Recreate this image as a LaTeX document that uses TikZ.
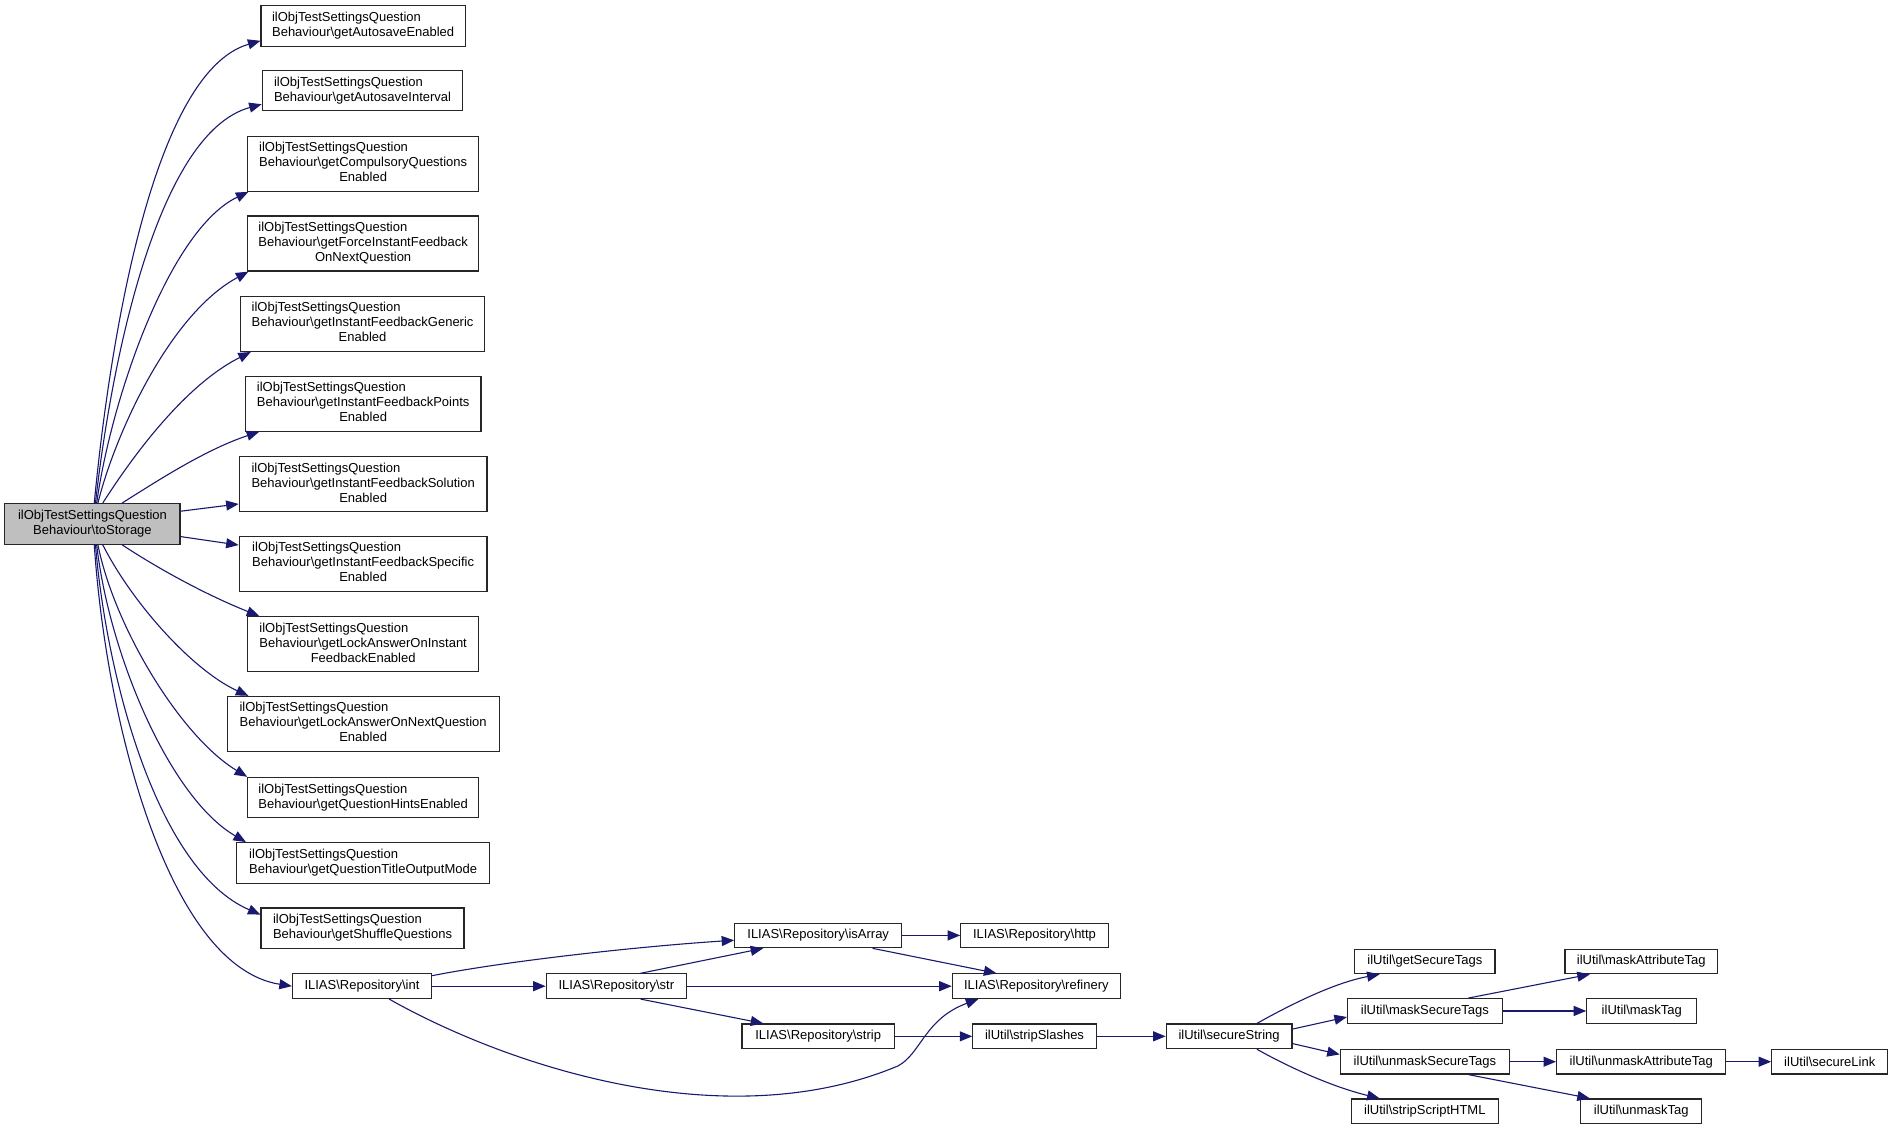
\documentclass[tikz,border=0pt]{standalone}
\usepackage{fontspec}
\setmainfont{Liberation Sans}
\usetikzlibrary{calc,arrows.meta}
\definecolor{edgec}{HTML}{191970}
\definecolor{boxgray}{HTML}{BFBFBF}
\newcommand\twoline[2]{\begin{tabular}{@{}l@{}}#1\\\multicolumn{1}{@{}c@{}}{#2}\end{tabular}}
\newcommand\threeline[3]{\begin{tabular}{@{}l@{}}#1\\#2\\\multicolumn{1}{@{}c@{}}{#3}\end{tabular}}
\newcommand\bs{\textbackslash}
\begin{document}
\begin{tikzpicture}[x=1.2086pt,y=-1.2086pt,
  fnbox/.style={draw=black!85,line width=1.2pt,fill=white,inner sep=0pt,align=center,
    font=\fontsize{13}{15}\selectfont},
  h2/.style={minimum height=40.5pt},
  h3/.style={minimum height=55pt},
  h1/.style={minimum height=24.6pt},
  call/.style={draw=edgec,line width=1.1pt,-{Triangle[length=12.5pt,width=10pt]}}]
\useasboundingbox[fill=white] (0,0) rectangle (1568,937.5);
% left
\node[fnbox,h2,fill=boxgray,minimum width=175.2pt] (ts) at (76.5,433.5) {\twoline{ilObjTestSettingsQuestion}{Behaviour\bs toStorage}};
% middle column
\node[fnbox,h2,minimum width=204.3pt] (b1) at (300.5,21.5) {\twoline{ilObjTestSettingsQuestion}{Behaviour\bs getAutosaveEnabled}};
\node[fnbox,h2,minimum width=200.6pt] (b2) at (300,75) {\twoline{ilObjTestSettingsQuestion}{Behaviour\bs getAutosaveInterval}};
\node[fnbox,h3,minimum width=230.8pt] (b3) at (300.5,135.5) {\threeline{ilObjTestSettingsQuestion}{Behaviour\bs getCompulsoryQuestions}{Enabled}};
\node[fnbox,h3,minimum width=230.8pt] (b4) at (300.5,201.5) {\threeline{ilObjTestSettingsQuestion}{Behaviour\bs getForceInstantFeedback}{OnNextQuestion}};
\node[fnbox,h3,minimum width=244.1pt] (b5) at (300,268) {\threeline{ilObjTestSettingsQuestion}{Behaviour\bs getInstantFeedbackGeneric}{Enabled}};
\node[fnbox,h3,minimum width=235.7pt] (b6) at (300.5,334) {\threeline{ilObjTestSettingsQuestion}{Behaviour\bs getInstantFeedbackPoints}{Enabled}};
\node[fnbox,h3,minimum width=247.8pt] (b7) at (300.5,400.5) {\threeline{ilObjTestSettingsQuestion}{Behaviour\bs getInstantFeedbackSolution}{Enabled}};
\node[fnbox,h3,minimum width=247.8pt] (b8) at (300.5,466.5) {\threeline{ilObjTestSettingsQuestion}{Behaviour\bs getInstantFeedbackSpecific}{Enabled}};
\node[fnbox,h3,minimum width=230.8pt] (b9) at (300.5,533) {\threeline{ilObjTestSettingsQuestion}{Behaviour\bs getLockAnswerOnInstant}{FeedbackEnabled}};
\node[fnbox,h3,minimum width=271.9pt] (b10) at (300.5,599) {\threeline{ilObjTestSettingsQuestion}{Behaviour\bs getLockAnswerOnNextQuestion}{Enabled}};
\node[fnbox,h2,minimum width=230.8pt] (b11) at (300.5,660) {\twoline{ilObjTestSettingsQuestion}{Behaviour\bs getQuestionHintsEnabled}};
\node[fnbox,h2,minimum width=252.6pt] (b12) at (300.5,714) {\twoline{ilObjTestSettingsQuestion}{Behaviour\bs getQuestionTitleOutputMode}};
\node[fnbox,h2,minimum width=203pt] (b13) at (300,768) {\twoline{ilObjTestSettingsQuestion}{Behaviour\bs getShuffleQuestions}};
\node[fnbox,h1,minimum width=139pt] (int) at (299.5,816) {ILIAS\bs Repository\bs int};
% repository
\node[fnbox,h1,minimum width=166.8pt] (isarr) at (677,774) {ILIAS\bs Repository\bs isArray};
\node[fnbox,h1,minimum width=140.2pt] (str) at (510,816) {ILIAS\bs Repository\bs str};
\node[fnbox,h1,minimum width=152.3pt] (strip) at (677,857.5) {ILIAS\bs Repository\bs strip};
\node[fnbox,h1,minimum width=147.4pt] (http) at (856,774) {ILIAS\bs Repository\bs http};
\node[fnbox,h1,minimum width=168pt] (ref) at (857.5,816) {ILIAS\bs Repository\bs refinery};
\node[fnbox,h1,minimum width=123.3pt] (sslash) at (856,857.5) {ilUtil\bs stripSlashes};
\node[fnbox,h1,minimum width=125.7pt] (sstr) at (1017,857.5) {ilUtil\bs secureString};
\node[fnbox,h1,minimum width=140.2pt] (gst) at (1179,795.5) {ilUtil\bs getSecureTags};
\node[fnbox,h1,minimum width=154.7pt] (mst) at (1179,836.5) {ilUtil\bs maskSecureTags};
\node[fnbox,h1,minimum width=169.2pt] (ust) at (1179,878.5) {ilUtil\bs unmaskSecureTags};
\node[fnbox,h1,minimum width=147.4pt] (ssh) at (1179,919.5) {ilUtil\bs stripScriptHTML};
\node[fnbox,h1,minimum width=152.3pt] (mat) at (1358,795.5) {ilUtil\bs maskAttributeTag};
\node[fnbox,h1,minimum width=110pt] (mtag) at (1358.5,836.5) {ilUtil\bs maskTag};
\node[fnbox,h1,minimum width=169.2pt] (uat) at (1358,878.5) {ilUtil\bs unmaskAttributeTag};
\node[fnbox,h1,minimum width=120.9pt] (utag) at (1358,919.5) {ilUtil\bs unmaskTag};
\node[fnbox,h1,minimum width=116pt] (slink) at (1514,878.5) {ilUtil\bs secureLink};
% edges from toStorage
\draw[call] ($(ts.north)+(1.5,0)$) .. controls (90,290) and (125,60) .. ($(b1.south west)+(0,-5)$);
\draw[call] ($(ts.north)+(2.5,0)$) .. controls (92,300) and (130,110) .. ($(b2.south west)+(0,-6)$);
\draw[call] ($(ts.north)+(3.5,0)$) .. controls (92,330) and (140,190) .. ($(b3.south west)+(1,0)$);
\draw[call] ($(ts.north)+(4.5,0)$) .. controls (95,360) and (140,260) .. ($(b4.south west)+(1,0)$);
\draw[call] ($(ts.north)+(8.5,0)$) .. controls (105,385) and (150,320) .. ($(b5.south west)+(9,0)$);
\draw[call] ($(ts.north)+(24.5,0)$) .. controls (130,398) and (170,372) .. ($(b6.south west)+(12,0)$);
\draw[call] ($(ts.east)+(0,-10.5)$) -- ($(b7.west)+(0,16.5)$);
\draw[call] ($(ts.east)+(0,10.5)$) -- ($(b8.west)+(0,-15.5)$);
\draw[call] ($(ts.south)+(24.5,0)$) .. controls (130,470) and (170,492) .. ($(b9.north west)+(10,0)$);
\draw[call] ($(ts.south)+(8.5,0)$) .. controls (110,500) and (160,555) .. ($(b10.north west)+(18,0)$);
\draw[call] ($(ts.south)+(4.5,0)$) .. controls (95,520) and (150,610) .. ($(b11.north west)+(0,0)$);
\draw[call] ($(ts.south)+(3.5,0)$) .. controls (90,540) and (140,660) .. ($(b12.north west)+(8,0)$);
\draw[call] ($(ts.south)+(2.5,0)$) .. controls (88,560) and (130,720) .. ($(b13.north west)+(0,6)$);
\draw[call] ($(ts.south)+(1.5,0)$) .. controls (88,600) and (140,800) .. (int.west);
% repository edges
\draw[call] ($(int.north east)+(0,2)$) .. controls (420,795) and (530,783) .. ($(isarr.west)+(0,4)$);
\draw[call] (int.east) -- (str.west);
\draw[call] ($(int.south)+(22.5,0)$) .. controls (420,882) and (600,942) .. (743,882) .. controls (762,872) and (765,843) .. ($(ref.south west)+(22,0)$);
\draw[call] ($(str.north)+(20,0)$) -- ($(isarr.south west)+(24,0)$);
\draw[call] (str.east) -- (ref.west);
\draw[call] ($(str.south)+(20,0)$) -- ($(strip.north west)+(18,0)$);
\draw[call] (isarr.east) -- (http.west);
\draw[call] ($(isarr.south)+(45,0)$) -- ($(ref.north west)+(37,0)$);
\draw[call] (strip.east) -- (sslash.west);
\draw[call] (sslash.east) -- (sstr.west);
% ilUtil edges
\draw[call] ($(sstr.north)+(23,0)$) .. controls (1070,830) and (1105,813) .. ($(gst.south west)+(21,0)$);
\draw[call] ($(sstr.east)+(0,-6)$) -- ($(mst.west)+(0,5)$);
\draw[call] ($(sstr.east)+(0,6)$) -- ($(ust.west)+(0,-6)$);
\draw[call] ($(sstr.south)+(23,0)$) .. controls (1070,885) and (1105,900) .. ($(ssh.north west)+(24,0)$);
\draw[call] ($(mst.north)+(36,0)$) -- ($(mat.south west)+(21,0)$);
\draw[call] (mst.east) -- (mtag.west);
\draw[call] (ust.east) -- (uat.west);
\draw[call] ($(ust.south)+(36,0)$) -- ($(utag.north west)+(8,0)$);
\draw[call] (uat.east) -- (slink.west);
\end{tikzpicture}
\end{document}
